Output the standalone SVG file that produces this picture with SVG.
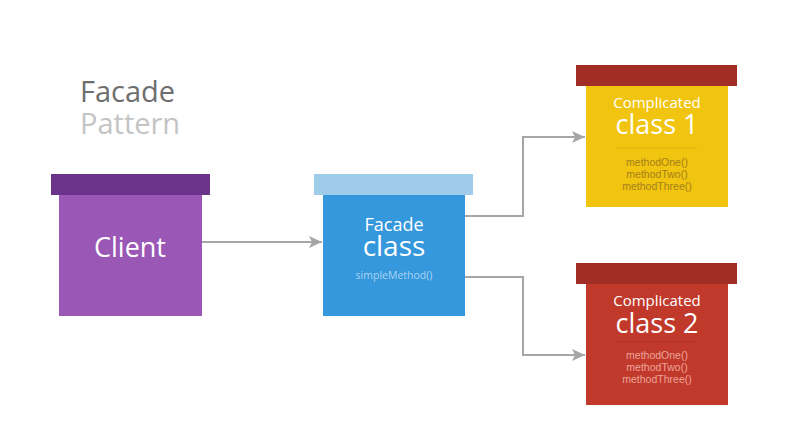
<svg xmlns="http://www.w3.org/2000/svg" width="786" height="444" viewBox="0 0 786 444">
<style>
text{font-family:"Open Sans","Liberation Sans",sans-serif;text-anchor:middle}
.conn{fill:none;stroke:#a6a6a6;stroke-width:2}
.w{fill:#ffffff}
.m{font-family:"Liberation Sans","Open Sans",sans-serif;font-size:10.5px}
</style>
<defs>
<marker id="arr" markerWidth="14" markerHeight="12" refX="13" refY="6" orient="auto" markerUnits="userSpaceOnUse">
<path d="M0,0 L13,6 L0,12 L3,6 Z" fill="#a6a6a6"/>
</marker>
</defs>
<rect width="786" height="444" fill="#ffffff"/>
<g id="title">
<text x="80" y="102" style="text-anchor:start;font-size:29px;fill:#6e6e6e">Facade</text>
<text x="80" y="134" style="text-anchor:start;font-size:29px;fill:#c4c4c4">Pattern</text>
</g>
<g id="connectors">
<path class="conn" d="M202,242 H322" marker-end="url(#arr)"/>
<path class="conn" d="M465,216 H523 V137 H585" marker-end="url(#arr)"/>
<path class="conn" d="M465,277 H523 V355 H585" marker-end="url(#arr)"/>
</g>
<g id="client">
<rect x="51" y="174" width="159" height="21" fill="#6b3389"/>
<rect x="59" y="195" width="143" height="121" fill="#9a57b5"/>
<text x="130" y="257" class="w" style="font-size:27px">Client</text>
</g>
<g id="facade">
<rect x="314" y="174" width="159" height="21" fill="#9fcde9"/>
<rect x="323" y="195" width="142" height="121" fill="#3597dc"/>
<text x="394" y="231" class="w" style="font-size:18px">Facade</text>
<text x="394" y="256" class="w" style="font-size:28px">class</text>
<text x="394" y="279" style="font-size:10.5px;fill:#a9d5f3">simpleMethod()</text>
</g>
<g id="complicated1">
<rect x="576" y="65" width="161" height="21" fill="#a22d24"/>
<rect x="586" y="86" width="142" height="121" fill="#f1c40f"/>
<text x="657" y="108" class="w" style="font-size:15px">Complicated</text>
<text x="657" y="134" class="w" style="font-size:27px">class 1</text>
<line x1="617" y1="148" x2="697" y2="148" stroke="#dcae0c" stroke-width="1"/>
<text x="657" y="166" class="m" fill="#a5801c">methodOne()</text>
<text x="657" y="178" class="m" fill="#a5801c">methodTwo()</text>
<text x="657" y="190" class="m" fill="#a5801c">methodThree()</text>
</g>
<g id="complicated2">
<rect x="576" y="263" width="161" height="21" fill="#a22d24"/>
<rect x="586" y="284" width="142" height="121" fill="#c0392b"/>
<text x="657" y="306" class="w" style="font-size:15px">Complicated</text>
<text x="657" y="333" class="w" style="font-size:27px">class 2</text>
<line x1="617" y1="342" x2="697" y2="342" stroke="#b03226" stroke-width="1"/>
<text x="657" y="359" class="m" fill="#eea49a">methodOne()</text>
<text x="657" y="371" class="m" fill="#eea49a">methodTwo()</text>
<text x="657" y="383" class="m" fill="#eea49a">methodThree()</text>
</g>
</svg>
